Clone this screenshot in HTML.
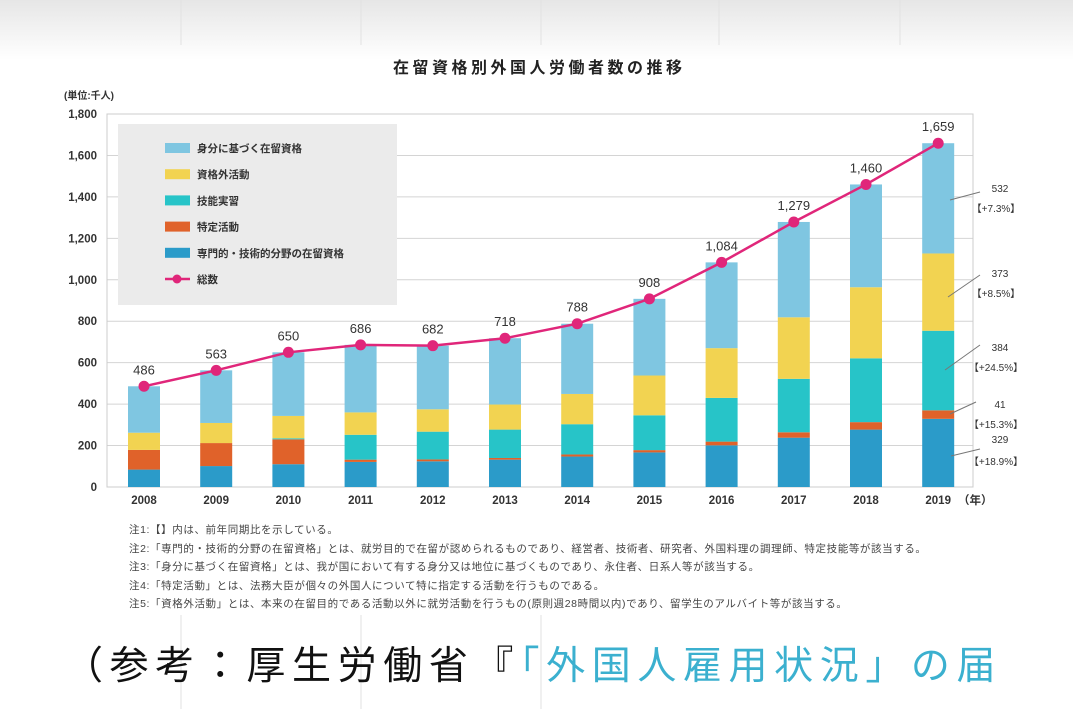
<!DOCTYPE html>
<html><head><meta charset="utf-8"><style>
body{margin:0;width:1073px;height:709px;overflow:hidden;background:#fff;font-family:"Liberation Sans","Noto Sans CJK JP",sans-serif;}
</style></head><body>
<svg id="s" width="1073" height="709" xmlns="http://www.w3.org/2000/svg" font-family="Liberation Sans, Noto Sans CJK JP, sans-serif">
<defs><linearGradient id="tg" x1="0" y1="0" x2="0" y2="1"><stop offset="0" stop-color="#e6e6e6"/><stop offset="1" stop-color="#fff"/></linearGradient></defs>
<rect x="0" y="0" width="1073" height="60" fill="url(#tg)"/>
<g stroke="#e2e2e2"><line x1="181" y1="0" x2="181" y2="45"/><line x1="361" y1="0" x2="361" y2="45"/><line x1="541" y1="0" x2="541" y2="45"/><line x1="719" y1="0" x2="719" y2="45"/><line x1="900" y1="0" x2="900" y2="45"/>
<line x1="181" y1="615" x2="181" y2="709"/><line x1="361" y1="615" x2="361" y2="709"/><line x1="541" y1="615" x2="541" y2="709"/></g>
<text x="393" y="73" font-size="16" font-weight="bold" letter-spacing="3.5" fill="#222">在留資格別外国人労働者数の推移</text>
<text x="64" y="99" font-size="10" font-weight="bold" fill="#333">(単位:千人)</text>
<g id="g"></g>
<g font-size="10.5" fill="#444" letter-spacing="0.6">
<text x="129" y="533">注1:【】内は、前年同期比を示している。</text>
<text x="129" y="552">注2:「専門的・技術的分野の在留資格」とは、就労目的で在留が認められるものであり、経営者、技術者、研究者、外国料理の調理師、特定技能等が該当する。</text>
<text x="129" y="570">注3:「身分に基づく在留資格」とは、我が国において有する身分又は地位に基づくものであり、永住者、日系人等が該当する。</text>
<text x="129" y="589">注4:「特定活動」とは、法務大臣が個々の外国人について特に指定する活動を行うものである。</text>
<text x="129" y="607">注5:「資格外活動」とは、本来の在留目的である活動以外に就労活動を行うもの(原則週28時間以内)であり、留学生のアルバイト等が該当する。</text>
</g>
<text x="64" y="679" font-size="39" letter-spacing="6.6" fill="#111">（参考：厚生労働省『<tspan fill="#3bb0cf">「外国人雇用状況」の届</tspan></text>
</svg>
<script>
const g=document.getElementById('g');let h='';
const y0=487,k=373/1800,X0=107,X1=973;
for(let v=0;v<=1800;v+=200){const y=y0-v*k;h+=`<line x1="${X0}" y1="${y}" x2="${X1}" y2="${y}" stroke="#d4d4d4"/>`;
h+=`<text x="97" y="${y+4}" text-anchor="end" font-size="11.5" font-weight="bold" fill="#333">${v.toLocaleString('en-US')}</text>`;}
h+=`<rect x="${X0}" y="${y0-1800*k}" width="${X1-X0}" height="${1800*k}" fill="none" stroke="#ccc"/>`;
const d=[[84,95,0,83,224],[101,111,0,97,254],[110,120,5,108,307],[121,11,120,108,326],[124,9,134,108,307],[132,8,137,121,320],[147,10,146,146,339],[167,11,168,192,370],[201,18,211,240,414],[238,26,258,297,460],[277,36,308,343,496],[329,41,384,373,532]];
const c=['#2b9bc9','#e0622a','#27c4c8','#f2d351','#7fc6e1'];
const tot=[486,563,650,686,682,718,788,908,1084,1279,1460,1659];
let pts=[];
d.forEach((r,i)=>{const cx=144+i*72.2;let cum=0;r.forEach((v,j)=>{h+=`<rect x="${cx-16}" y="${y0-(cum+v)*k}" width="32" height="${v*k}" fill="${c[j]}"/>`;cum+=v;});
const ty=y0-tot[i]*k;pts.push([cx,ty]);
h+=`<text x="${cx}" y="${ty-12}" text-anchor="middle" font-size="13" fill="#333">${tot[i].toLocaleString('en-US')}</text>`;
h+=`<text x="${cx}" y="504" text-anchor="middle" font-size="11.5" font-weight="bold" fill="#333">${2008+i}</text>`;});
h+=`<text x="958" y="504" font-size="11.5" font-weight="bold" fill="#333">（年）</text>`;
h+=`<polyline points="${pts.map(p=>p.join(',')).join(' ')}" fill="none" stroke="#e0267a" stroke-width="2.5"/>`;
pts.forEach(p=>h+=`<circle cx="${p[0]}" cy="${p[1]}" r="5.5" fill="#e0267a"/>`);
h+=`<rect x="118" y="124" width="279" height="181" fill="#ebebeb"/>`;
const L=['身分に基づく在留資格','資格外活動','技能実習','特定活動','専門的・技術的分野の在留資格'];
const Lc=[c[4],c[3],c[2],c[1],c[0]];
L.forEach((t,i)=>{const y=148+i*26.2;h+=`<rect x="165" y="${y-5}" width="25" height="10" fill="${Lc[i]}"/><text x="197" y="${y+4}" font-size="10.5" font-weight="bold" fill="#333">${t}</text>`;});
h+=`<line x1="165" y1="279" x2="190" y2="279" stroke="#e0267a" stroke-width="2.5"/><circle cx="177" cy="279" r="4.5" fill="#e0267a"/><text x="197" y="283" font-size="10.5" font-weight="bold" fill="#333">総数</text>`;
const A=[[200,'532','【+7.3%】',212],[285,'373','【+8.5%】',297],[359,'384','【+24.5%】',371],[416,'41','【+15.3%】',428],[451,'329','【+18.9%】',465]];
const lx=[[950,200,980,192],[948,297,980,275],[945,370,980,345],[950,414,976,402],[951,456,980,449]];
A.forEach((a,i)=>{const l=lx[i];h+=`<line x1="${l[0]}" y1="${l[1]}" x2="${l[2]}" y2="${l[3]}" stroke="#777"/>`;
h+=`<text x="1000" y="${a[0]-8}" text-anchor="middle" font-size="10" fill="#333">${a[1]}</text><text x="996" y="${a[3]}" text-anchor="middle" font-size="10" fill="#333">${a[2]}</text>`;});
g.innerHTML=h;
</script>
</body></html>
